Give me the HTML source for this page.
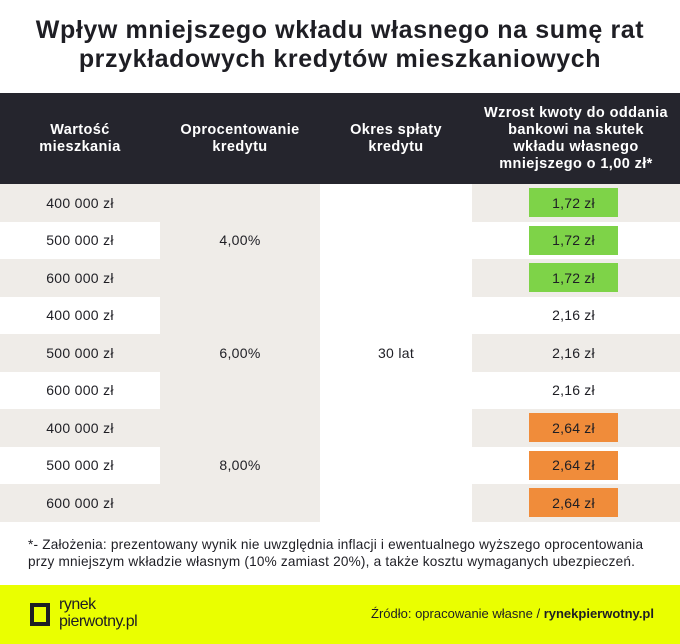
<!DOCTYPE html>
<html><head><meta charset="utf-8"><style>
*{margin:0;padding:0;box-sizing:border-box}
body{width:680px;height:644px;background:#fff;font-family:"Liberation Sans",sans-serif;color:#1e1e24;position:relative;overflow:hidden}
.title{position:absolute;top:16px;left:0;width:680px;text-align:center;font-weight:bold;font-size:25px;letter-spacing:0.6px;line-height:29px;color:#1e1e24;white-space:nowrap}
.head{position:absolute;top:93px;left:0;width:680px;height:91px;background:#25252d;color:#fff;font-weight:bold;font-size:14.5px;letter-spacing:0.4px;line-height:17px}
.hc{position:absolute;top:0;height:91px;display:flex;align-items:center;justify-content:center;text-align:center;white-space:nowrap}
.cell{position:absolute;display:flex;align-items:center;justify-content:center;font-size:14px;letter-spacing:0.3px}
.badge{position:absolute;left:529px;width:89px;height:29px;display:flex;align-items:center;justify-content:center;font-size:14px;letter-spacing:0.2px}
.note{position:absolute;left:28px;top:536px;font-size:13.6px;letter-spacing:0.2px;line-height:17px;white-space:nowrap}
.foot{position:absolute;left:0;top:585px;width:680px;height:59px;background:#eaff00}
</style></head><body>
<div class="title">Wpływ mniejszego wkładu własnego na sumę rat<br>przykładowych kredytów mieszkaniowych</div>
<div class="head">
<div class="hc" style="left:0;width:160px">Wartość<br>mieszkania</div>
<div class="hc" style="left:160px;width:160px">Oprocentowanie<br>kredytu</div>
<div class="hc" style="left:320px;width:152px">Okres spłaty<br>kredytu</div>
<div class="hc" style="left:472px;width:208px">Wzrost kwoty do oddania<br>bankowi na skutek<br>wkładu własnego<br>mniejszego o 1,00 zł*</div>
</div>
<div id="tbl"></div>
<div class="note">*- Założenia: prezentowany wynik nie uwzględnia inflacji i ewentualnego wyższego oprocentowania<br>przy mniejszym wkładzie własnym (10% zamiast 20%), a także kosztu wymaganych ubezpieczeń.</div>
<div class="foot">
<svg style="position:absolute;left:28px;top:15px" width="24" height="28"><path d="M4 5h16v19H4z" fill="none" stroke="#1e1e24" stroke-width="4"/></svg>
<div style="position:absolute;left:59px;top:11px;font-size:16px;line-height:17px;letter-spacing:-0.5px">rynek<br>pierwotny<span style="font-weight:normal">.pl</span></div>
<div style="position:absolute;right:26px;top:21px;font-size:13px">Źródło: opracowanie własne / <b>rynekpierwotny.pl</b></div>
</div>
<script>
const values=["400 000 zł","500 000 zł","600 000 zł","400 000 zł","500 000 zł","600 000 zł","400 000 zł","500 000 zł","600 000 zł"];
const rates=["4,00%","6,00%","8,00%"];
const increases=[1.72,1.72,1.72,2.16,2.16,2.16,2.64,2.64,2.64];
const T=document.getElementById('tbl');
const top0=184,rh=37.5;
function mk(cls,style,txt){const d=document.createElement('div');d.className=cls;d.style.cssText=style;d.textContent=txt;T.appendChild(d);return d;}
const c2=mk('cell',`left:160px;top:${top0}px;width:160px;height:${rh*9}px;background:#efece8`,'');


rates.forEach((r,i)=>{const d=mk('cell',`left:160px;top:${top0+i*rh*3}px;width:160px;height:${rh*3}px`,r);

});
const p=mk('cell',`left:320px;top:${top0}px;width:152px;height:${rh*9}px`,'30 lat');


values.forEach((v,i)=>{const y=top0+i*rh;const bg=i%2==0?'#efece8':'#fff';
const a=mk('cell',`left:0;top:${y}px;width:160px;height:${rh}px;background:${bg}`,v);


const b=mk('cell',`left:472px;top:${y}px;width:208px;height:${rh}px;background:${bg}`,'');


const val=increases[i];const col=val<2?'#7ed348':(val>2.5?'#f08c3a':'transparent');
const c=mk('badge',`top:${y+4}px;background:${col}`,val.toFixed(2).replace('.',',')+' zł');

});
</script>
</body></html>
